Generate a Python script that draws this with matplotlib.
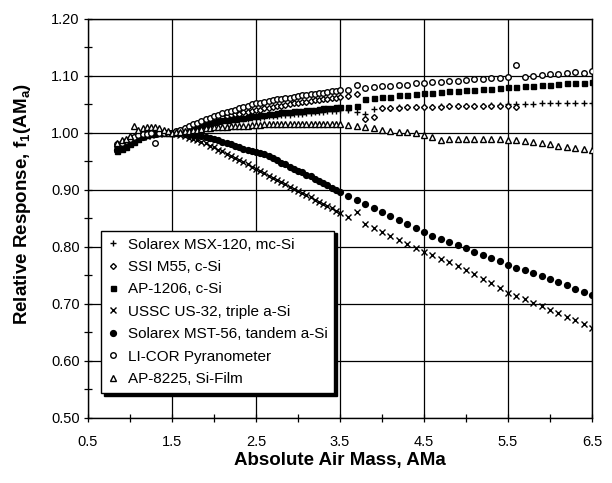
import numpy as np
import matplotlib
matplotlib.use('Agg')
import matplotlib.pyplot as plt
from matplotlib.ticker import FixedLocator, FormatStrFormatter, MultipleLocator

plt.rcParams['font.family'] = 'Liberation Sans'
plt.rcParams['mathtext.fontset'] = 'custom'
plt.rcParams['mathtext.rm'] = 'Liberation Sans:bold'

# absolute air mass (shared by all modules)
am = [0.85, 0.90, 0.95, 1.00, 1.05, 1.10, 1.15, 1.20, 1.25, 1.30, 1.35, 1.40, 1.45, 1.50,
      1.55, 1.60, 1.65, 1.70, 1.75, 1.80, 1.85, 1.90, 1.95, 2.00,
      2.05, 2.10, 2.15, 2.20, 2.25, 2.30, 2.35, 2.40, 2.45, 2.50,
      2.55, 2.60, 2.65, 2.70, 2.75, 2.80, 2.85, 2.90, 2.95, 3.00,
      3.05, 3.10, 3.15, 3.20, 3.25, 3.30, 3.35, 3.40, 3.45, 3.50,
      3.6, 3.7, 3.8, 3.9, 4.0, 4.1, 4.2, 4.3, 4.4, 4.5,
      4.6, 4.7, 4.8, 4.9, 5.0, 5.1, 5.2, 5.3, 5.4, 5.5,
      5.6, 5.7, 5.8, 5.9, 6.0, 6.1, 6.2, 6.3, 6.4, 6.5]

mc_si = [0.975, 0.978, 0.982, 0.986, 0.990, 0.993, 0.996, 0.998, 0.999, 1.000, 1.000, 1.000, 1.000, 1.000,
         1.002, 1.004, 1.006, 1.008, 1.010, 1.011, 1.013, 1.014, 1.016, 1.017,
         1.018, 1.019, 1.020, 1.021, 1.022, 1.023, 1.024, 1.025, 1.026, 1.026,
         1.027, 1.028, 1.029, 1.029, 1.030, 1.031, 1.031, 1.032, 1.033, 1.033,
         1.034, 1.035, 1.035, 1.036, 1.037, 1.037, 1.038, 1.039, 1.039, 1.040,
         1.040, 1.037, 1.033, 1.042, 1.044, 1.044, 1.045, 1.045, 1.046, 1.046,
         1.046, 1.047, 1.047, 1.047, 1.048, 1.048, 1.048, 1.049, 1.049, 1.050,
         1.050, 1.051, 1.051, 1.052, 1.052, 1.052, 1.053, 1.053, 1.053, 1.053]

ssi_m55 = [0.972, 0.975, 0.979, 0.983, 0.987, 0.991, 0.995, 0.998, 0.999, 1.000, 1.000, 1.000, 1.000, 1.000,
           1.002, 1.005, 1.008, 1.010, 1.013, 1.015, 1.018, 1.020, 1.023, 1.025,
           1.027, 1.028, 1.030, 1.031, 1.033, 1.034, 1.036, 1.037, 1.039, 1.040,
           1.041, 1.043, 1.044, 1.045, 1.047, 1.048, 1.049, 1.050, 1.052, 1.053,
           1.054, 1.055, 1.056, 1.057, 1.058, 1.059, 1.060, 1.061, 1.062, 1.063,
           1.065, 1.068, 1.024, 1.028, 1.043, 1.044, 1.044, 1.045, 1.045, 1.046,
           1.046, 1.046, 1.047, 1.047, 1.047, 1.047, 1.048, 1.048, 1.048, 1.048,
           1.046, None, None, None, None, None, None, None, None, None]

ap_1206 = [0.968, 0.972, 0.976, 0.980, 0.985, 0.990, 0.994, 0.997, 0.999, 1.000, 1.000, 1.000, 1.000, 1.000,
           1.002, 1.004, 1.006, 1.008, 1.010, 1.012, 1.014, 1.016, 1.018, 1.020,
           1.021, 1.022, 1.023, 1.024, 1.025, 1.026, 1.027, 1.028, 1.029, 1.030,
           1.031, 1.032, 1.033, 1.034, 1.035, 1.036, 1.036, 1.037, 1.038, 1.039,
           1.039, 1.040, 1.041, 1.041, 1.042, 1.043, 1.043, 1.044, 1.045, 1.045,
           1.046, 1.047, 1.060, 1.062, 1.063, 1.064, 1.066, 1.067, 1.068, 1.070,
           1.071, 1.072, 1.073, 1.074, 1.075, 1.076, 1.077, 1.078, 1.079, 1.080,
           1.081, 1.082, 1.083, 1.084, 1.085, 1.086, 1.087, 1.088, 1.088, 1.089]

ussc_us32 = [0.972, 0.975, 0.978, 0.982, 0.986, 0.990, 0.993, 0.995, 0.997, 0.998, 0.999, 1.000, 1.000, 1.000,
             0.999, 0.997, 0.995, 0.992, 0.990, 0.988, 0.985, 0.982, 0.978, 0.975,
             0.971, 0.968, 0.964, 0.960, 0.956, 0.952, 0.949, 0.945, 0.941, 0.937,
             0.933, 0.929, 0.925, 0.921, 0.918, 0.914, 0.910, 0.906, 0.902, 0.898,
             0.894, 0.891, 0.887, 0.883, 0.879, 0.875, 0.872, 0.868, 0.864, 0.860,
             0.853, 0.862, 0.840, 0.833, 0.826, 0.819, 0.812, 0.806, 0.799, 0.792,
             0.786, 0.779, 0.773, 0.766, 0.760, 0.752, 0.744, 0.736, 0.728, 0.720,
             0.714, 0.708, 0.702, 0.696, 0.690, 0.684, 0.678, 0.672, 0.665, 0.658]

mst_56 = [0.970, 0.974, 0.978, 0.982, 0.986, 0.990, 0.993, 0.996, 0.998, 0.999, 1.000, 1.000, 1.000, 1.000,
          1.000, 1.000, 0.999, 0.998, 0.997, 0.996, 0.995, 0.993, 0.991, 0.989,
          0.987, 0.985, 0.982, 0.980, 0.977, 0.975, 0.972, 0.970, 0.968, 0.966,
          0.965, 0.963, 0.960, 0.956, 0.952, 0.948, 0.945, 0.941, 0.937, 0.934,
          0.931, 0.927, 0.924, 0.920, 0.916, 0.912, 0.908, 0.904, 0.900, 0.897,
          0.889, 0.882, 0.875, 0.868, 0.861, 0.854, 0.847, 0.840, 0.833, 0.826,
          0.820, 0.814, 0.808, 0.803, 0.798, 0.792, 0.786, 0.780, 0.775, 0.769,
          0.764, 0.759, 0.754, 0.749, 0.744, 0.738, 0.733, 0.727, 0.721, 0.715]

licor = [0.980, 0.983, 0.986, 0.990, 0.993, 0.996, 0.998, 0.999, 1.000, 0.983, 1.000, 1.000, 1.000, 1.000,
         1.003, 1.006, 1.009, 1.012, 1.015, 1.018, 1.021, 1.024, 1.027, 1.030,
         1.032, 1.035, 1.037, 1.039, 1.041, 1.044, 1.046, 1.048, 1.050, 1.052,
         1.053, 1.055, 1.056, 1.057, 1.059, 1.060, 1.061, 1.062, 1.064, 1.065,
         1.066, 1.067, 1.068, 1.069, 1.070, 1.071, 1.072, 1.073, 1.074, 1.075,
         1.076, 1.084, 1.079, 1.081, 1.082, 1.083, 1.084, 1.085, 1.087, 1.088,
         1.089, 1.090, 1.091, 1.092, 1.093, 1.094, 1.095, 1.096, 1.097, 1.098,
         1.120, 1.098, 1.100, 1.102, 1.103, 1.104, 1.106, 1.107, 1.106, 1.108]

ap_8225 = [0.983, 0.987, 0.990, 0.995, 1.012, 1.005, 1.008, 1.010, 1.010, 1.010, 1.008, 1.006, 1.003, 1.000,
           1.001, 1.002, 1.003, 1.004, 1.005, 1.006, 1.007, 1.008, 1.009, 1.010,
           1.010, 1.011, 1.011, 1.012, 1.012, 1.013, 1.013, 1.013, 1.014, 1.014,
           1.014, 1.015, 1.015, 1.015, 1.015, 1.016, 1.016, 1.016, 1.016, 1.016,
           1.016, 1.016, 1.016, 1.016, 1.016, 1.016, 1.015, 1.015, 1.015, 1.015,
           1.014, 1.013, 1.011, 1.009, 1.006, 1.004, 1.002, 1.001, 1.000, 0.997,
           0.993, 0.987, 0.990, 0.990, 0.990, 0.990, 0.989, 0.989, 0.989, 0.988,
           0.987, 0.986, 0.984, 0.982, 0.980, 0.978, 0.976, 0.974, 0.972, 0.971]

labels = ['Solarex MSX-120, mc-Si', 'SSI M55, c-Si', 'AP-1206, c-Si',
          'USSC US-32, triple a-Si', 'Solarex MST-56, tandem a-Si',
          'LI-COR Pyranometer', 'AP-8225, Si-Film']
series = [mc_si, ssi_m55, ap_1206, ussc_us32, mst_56, licor, ap_8225]
markers = ['+', 'D', 's', 'x', 'o', 'o', '^']
filled = [True, False, True, True, True, False, False]
sizes = [4.5, 3.0, 3.6, 4.0, 4.2, 4.0, 3.8]

x_major = [0.5, 1.5, 2.5, 3.5, 4.5, 5.5, 6.5]
x_minor = [1.0, 2.0, 3.0, 4.0, 5.0, 6.0]

fig = plt.figure(figsize=(6.12, 4.83), dpi=100)
ax = fig.add_axes([0.1438, 0.1346, 0.8236, 0.8261])

handles = []
for vals, lab, mk, fl, ms in zip(series, labels, markers, filled, sizes):
    y = np.array([np.nan if v is None else v for v in vals], dtype=float)
    h, = ax.plot(am, y, linestyle='none', marker=mk, ms=ms,
                 mfc='black' if fl else 'white', mec='black', mew=1.0,
                 label=lab, zorder=3)
    handles.append(h)

ax.set_xlim(0.5, 6.5)
ax.set_ylim(0.5, 1.2)
ax.xaxis.set_major_locator(FixedLocator(x_major))
ax.xaxis.set_minor_locator(FixedLocator(x_minor))
ax.yaxis.set_major_locator(MultipleLocator(0.1))
ax.yaxis.set_minor_locator(MultipleLocator(0.05))
ax.xaxis.set_major_formatter(FormatStrFormatter('%.1f'))
ax.yaxis.set_major_formatter(FormatStrFormatter('%.2f'))
ax.grid(True, which='major', color='black', linewidth=0.9)
ax.tick_params(which='both', direction='inout', length=6, width=0.9, colors='black')
ax.tick_params(axis='x', pad=9, labelsize=10.5)
ax.tick_params(axis='y', pad=3, labelsize=10.5)
for s in ax.spines.values():
    s.set_linewidth(1.0)

ax.set_xlabel('Absolute Air Mass, AMa', fontsize=13.5, fontweight='bold')
ax.set_ylabel(r'Relative Response, f$_\mathrm{1}$(AM$_\mathrm{a}$)', fontsize=13.5, fontweight='bold')
ax.xaxis.set_label_coords(0.5, -0.085)
ax.yaxis.set_label_coords(-0.11, 0.536)

leg = ax.legend(handles=handles, loc='lower left', bbox_to_anchor=(0.026, 0.063),
                borderaxespad=0, fontsize=11, frameon=True, fancybox=False,
                edgecolor='black', framealpha=1, labelspacing=0.55,
                handlelength=0.6, handletextpad=0.7, borderpad=0.45,
                shadow={'color': 'black', 'alpha': 1.0})
leg.get_frame().set_linewidth(1.0)
leg.set_zorder(5)

fig.savefig('out.png', dpi=100)
